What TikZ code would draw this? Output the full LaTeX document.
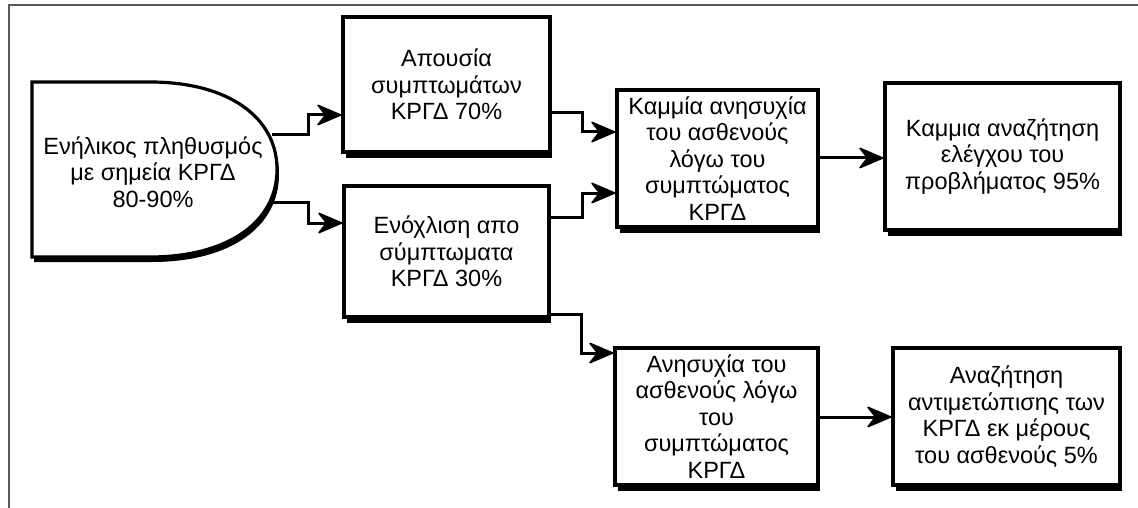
\documentclass[tikz,border=0pt]{standalone}
\usepackage{fontspec}
\setmainfont{Liberation Sans}
\usetikzlibrary{arrows.meta}
\tikzset{
  box/.style={draw, line width=3.2pt, fill=white, align=center, inner sep=0pt,
    font=\fontsize{23.5}{26.5}\selectfont},
  txt/.style={align=center, inner sep=0pt, font=\fontsize{23.5}{26.5}\selectfont},
  conn/.style={line width=3pt, -{Stealth[length=27pt,width=23pt,inset=9pt,line width=1.6pt,round]}},
  framestyle/.style={draw=black!65, line width=1.6pt},
  shadowfill/.style={fill=black},
}
\def\startshapepath{(32,82) -- (150,82) .. controls (228,82) and (277,117) .. (277,169.5) .. controls (277,222) and (228,257) .. (150,257) -- (32,257) -- cycle}
\newcommand{\boxshadow}[1]{\fill[shadowfill] ([xshift=5pt]#1.south west) rectangle ([yshift=-4pt]#1.south east);}
\begin{document}
\begin{tikzpicture}[x=1pt,y=-1pt]
\useasboundingbox (0,0) rectangle (1138,508);
% frame
\draw[framestyle] (9,508) -- (9,5) -- (1138,5);

% start shape
\begin{scope}[shift={(2,5)}]
  \fill[shadowfill] \startshapepath;
\end{scope}
\draw[line width=3.2pt, fill=white] \startshapepath;
\node[txt] (start) at (153,172) {Ενήλικος πληθυσμός\\με σημεία ΚΡΓΔ\\80-90\%};
\coordinate (s1) at (272,135);
\coordinate (s2) at (272,202);

% boxes
\node[box, minimum width=207pt, minimum height=135pt] (a) at (446.5,84.5) {Απουσία\\συμπτωμάτων\\ΚΡΓΔ 70\%};
\node[box, minimum width=205pt, minimum height=131pt] (b) at (446.5,251.5) {Ενόχλιση απο\\σύμπτωματα\\ΚΡΓΔ 30\%};
\node[box, minimum width=201pt, minimum height=137pt] (c) at (717.5,158.5) {Καμμία ανησυχία\\του ασθενούς\\λόγω του\\συμπτώματος\\ΚΡΓΔ};
\node[box, minimum width=235pt, minimum height=147pt] (d) at (1002.5,156.5) {Καμμια αναζήτηση\\ελέγχου του\\προβλήματος 95\%};
\node[box, minimum width=203pt, minimum height=137pt] (e) at (716.5,416.5) {Ανησυχία του\\ασθενούς λόγω\\του\\συμπτώματος\\ΚΡΓΔ};
\node[box, minimum width=227pt, minimum height=137pt] (f) at (1006.5,416.5) {Αναζήτηση\\αντιμετώπισης των\\ΚΡΓΔ εκ μέρους\\του ασθενούς 5\%};

\boxshadow{a}
\boxshadow{b}
\boxshadow{c}
\boxshadow{d}
\boxshadow{e}
\boxshadow{f}

% connectors
\draw[conn] (s1) -- (308,135) |- (a.west |- 0,115);
\draw[conn] (s2) -- (308,202) |- (b.west |- 0,223);
\draw[conn] (a.east |- 0,113) -- (582,113) |- (c.west |- 0,132);
\draw[conn] (b.east |- 0,217) -- (582,217) |- (c.west |- 0,193);
\draw[conn] (b.east |- 0,314) -- (581,314) |- (e.west |- 0,353);
\draw[conn] (c.east |- 0,158) -- (d.west |- 0,158);
\draw[conn] (e.east |- 0,417) -- (f.west |- 0,417);
\end{tikzpicture}
\end{document}
